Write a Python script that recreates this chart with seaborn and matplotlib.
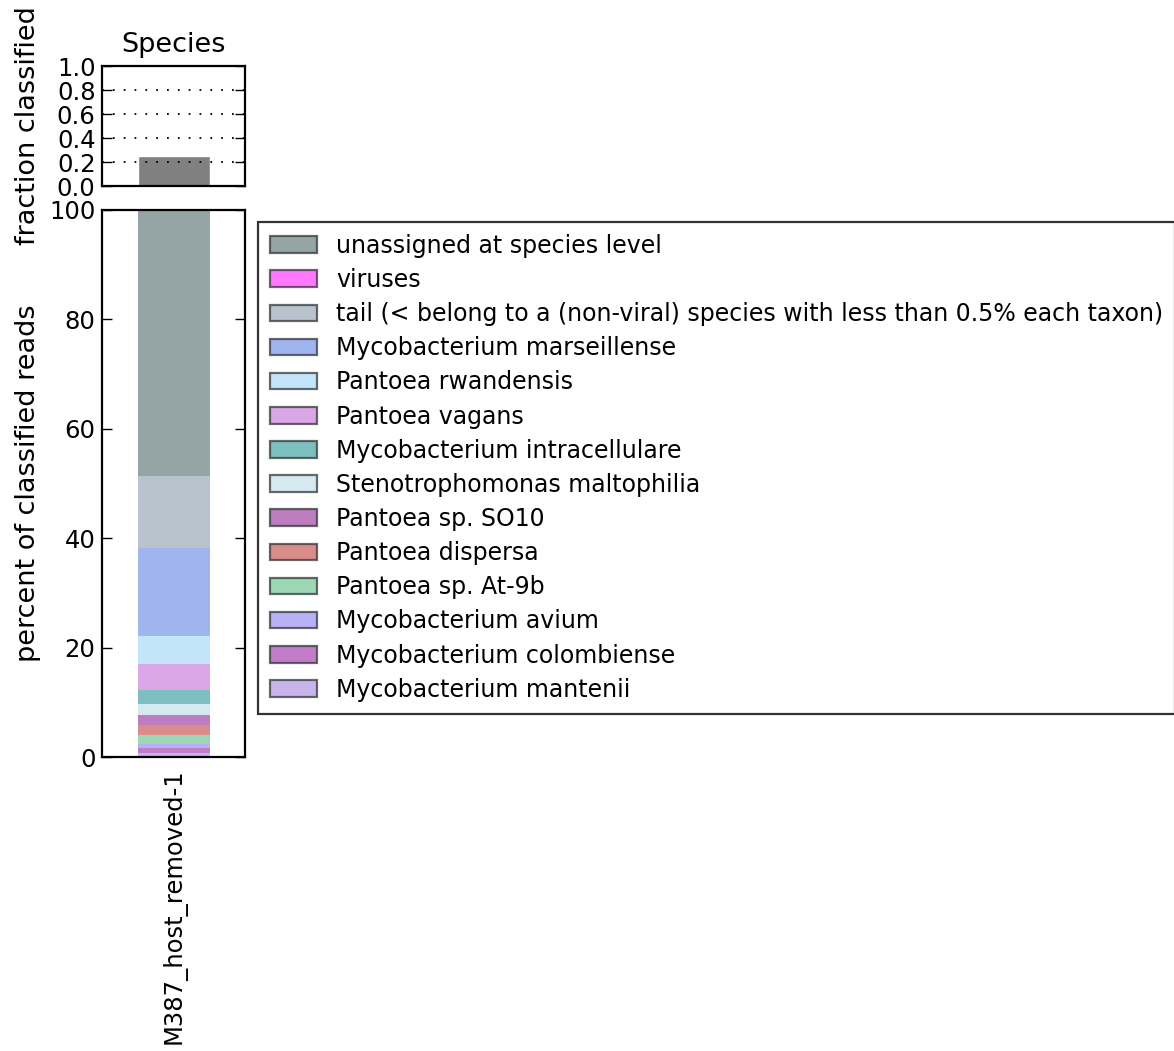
import matplotlib
matplotlib.use("Agg")
import matplotlib.pyplot as plt
from matplotlib.patches import Patch
import numpy as np
import pandas as pd
import seaborn as sns

# Sample and overall classified fraction
sample = "M387_host_removed-1"
fraction_classified = [0.248]

# Taxa in legend order (top of stack first) with their percent of classified reads
taxa = [
    "unassigned at species level",
    "viruses",
    "tail (< belong to a (non-viral) species with less than 0.5% each taxon)",
    "Mycobacterium marseillense",
    "Pantoea rwandensis",
    "Pantoea vagans",
    "Mycobacterium intracellulare",
    "Stenotrophomonas maltophilia",
    "Pantoea sp. SO10",
    "Pantoea dispersa",
    "Pantoea sp. At-9b",
    "Mycobacterium avium",
    "Mycobacterium colombiense",
    "Mycobacterium mantenii",
]
percents = [48.6, 0.0, 13.2, 16.15, 5.12, 4.75, 2.44, 2.07, 1.89, 1.70, 1.65, 0.85, 0.85, 0.73]
colors = [
    "#95a5a5", "#ff78ff", "#b9c3ce", "#a0b4ee", "#c3e5fa", "#daa6e5", "#7dbebe",
    "#d4eaf0", "#be7dbe", "#da8c8a", "#9cd8b4", "#b9b0f5", "#c37dc8", "#c8b4eb",
]

sns.set_style("white")
plt.rcParams["font.family"] = ["DejaVu Sans"]
plt.rcParams.update({
    "font.size": 17,
    "text.color": "black",
    "axes.labelcolor": "black",
    "xtick.color": "black",
    "ytick.color": "black",
    "axes.linewidth": 1.6,
    "axes.edgecolor": "black",
    "xtick.direction": "in",
    "ytick.direction": "in",
    "xtick.major.size": 7,
    "ytick.major.size": 7,
    "ytick.major.width": 1.0,
    "xtick.major.width": 1.0,
    "ytick.right": True,
    "ytick.left": True,
})

TICK_FS = 17.5
LABEL_FS = 19.5

fig = plt.figure(figsize=(11.74, 10.51), dpi=100)
ax_top = fig.add_axes([0.0873, 0.823, 0.1217, 0.1142])
ax_bot = fig.add_axes([0.0873, 0.2797, 0.1217, 0.5205])

# Top panel: fraction of reads classified
top_df = pd.DataFrame({"sample": [sample], "fraction": fraction_classified})
sns.barplot(data=top_df, x="sample", y="fraction", color="#808080", width=0.5,
            saturation=1, ax=ax_top, zorder=1)
ticks01 = np.round(np.arange(0, 1.01, 0.2), 1)
ax_top.set_ylim(0, 1.0)
ax_top.set_yticks(ticks01)
ax_top.set_yticklabels([f"{v:.1f}" for v in ticks01])
ax_top.yaxis.grid(True, linestyle=(0, (1, 5)), color="black", linewidth=1.3, zorder=2)
ax_top.set_axisbelow(False)
ax_top.set_xticks([])
ax_top.set_xlabel("")
ax_top.set_ylabel("fraction classified", fontsize=LABEL_FS)
ax_top.set_title("Species", fontsize=LABEL_FS, pad=10)
ax_top.set_xlim(-0.5, 0.5)
ax_top.tick_params(axis="y", labelsize=TICK_FS, pad=5)

# Bottom panel: stacked percent composition (cumulative bars drawn tallest first)
stack_order = taxa[::-1]
stack_vals = percents[::-1]
stack_cols = colors[::-1]
cum = np.cumsum(stack_vals)
for i in range(len(stack_order) - 1, -1, -1):
    if stack_vals[i] <= 0:
        continue
    df = pd.DataFrame({"sample": [sample], "value": [cum[i]]})
    sns.barplot(data=df, x="sample", y="value", color=stack_cols[i], width=0.5,
                saturation=1, ax=ax_bot, linewidth=0)
ax_bot.set_ylim(0, 100)
ax_bot.set_xlim(-0.5, 0.5)
ax_bot.set_yticks([0, 20, 40, 60, 80, 100])
ax_bot.set_xlabel("")
ax_bot.set_ylabel("percent of classified reads", fontsize=LABEL_FS)
ax_bot.tick_params(axis="x", length=0, labelsize=TICK_FS, pad=8)
ax_bot.tick_params(axis="y", labelsize=TICK_FS, pad=5)
for lab in ax_bot.get_xticklabels():
    lab.set_rotation(90)
ax_top.yaxis.set_label_coords(-0.43, 0.5)
ax_bot.yaxis.set_label_coords(-0.43, 0.5)

handles = [Patch(facecolor=c, edgecolor=(0.2, 0.22, 0.22, 0.75), linewidth=1.6, label=t)
           for t, c in zip(taxa, colors)]
leg = fig.legend(handles=handles, loc="upper left", bbox_to_anchor=(0.2198, 0.7888),
                 fontsize=17, frameon=True, fancybox=False, borderaxespad=0,
                 handlelength=2.0, handleheight=0.7, labelspacing=0.43, borderpad=0.5)
leg.get_frame().set_edgecolor("black")
leg.get_frame().set_linewidth(1.6)

fig.savefig("out.png", dpi=100)
